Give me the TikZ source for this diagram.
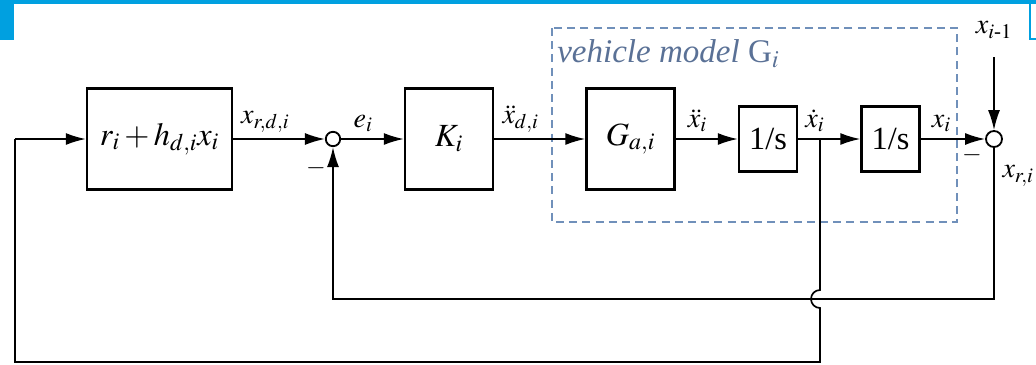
\documentclass[tikz,border=0pt]{standalone}
\usepackage{amsmath}
\usepackage{mathptmx}
\usepackage{fontspec}
\setmainfont{Liberation Serif}
\usepackage{xcolor}
\usepackage{tikz}
\usetikzlibrary{arrows.meta,calc,positioning}

\begin{document}
\begin{tikzpicture}[
  x=0.25mm, y=0.25mm,
  >={Latex[length=5mm,width=3mm]},
  block/.style={draw=black, line width=1.7pt, minimum width=22mm,
    minimum height=25.25mm, inner sep=1mm, font=\fontsize{23}{27}\selectfont},
  intblock/.style={block, minimum width=14.5mm, minimum height=16.25mm},
  sumjunc/.style={draw=black, circle, line width=1.3pt, minimum size=3.6mm,
    inner sep=0pt},
  flow/.style={->, line width=1.2pt, draw=black},
  wire/.style={line width=1.2pt, draw=black},
  lbl/.style={font=\fontsize{20}{24}\selectfont, inner sep=1.5mm},
  sgn/.style={font=\fontsize{18}{20}\selectfont, inner sep=0pt},
  modelbox/.style={draw=modelblue, line width=1pt, dash pattern=on 2mm off 1.3mm}
]
\definecolor{frameblue}{HTML}{00A0E0}
\definecolor{modelblue}{HTML}{7090BA}
\definecolor{modeltext}{HTML}{5A7196}

\useasboundingbox (0,0) rectangle (1036,-364);

% Page frame
\fill[frameblue] (0,0) rectangle (1036,-4);
\fill[frameblue] (0,0) rectangle (14,-40);
\draw[frameblue, line width=1.2pt] (1030,0) -- (1030,-39) -- (1036,-39);

% Vehicle model
\draw[modelbox] (552,-28) rectangle (957,-222);
\node[anchor=north west, text=modeltext, inner sep=0pt,
  font=\fontsize{23.5}{27}\selectfont] (mlabel) at (557,-39)
  {\textit{vehicle model} G$_i$};

% Blocks
\node[block, minimum width=36.25mm] (ref) at (159.5,-139) {$r_i + h_{d,i}x_i$};
\node[sumjunc] (j1) at (333,-139) {};
\node[block] (ctrl) at (449,-139) {$K_i$};
\node[block] (act) at (630.5,-139) {$G_{a,i}$};
\node[intblock] (int1) at (768,-139) {1/s};
\node[intblock] (int2) at (890.5,-139) {1/s};
\node[sumjunc, minimum size=4mm] (j2) at (994,-139) {};

% Signals
\coordinate (tap) at (820,-139);
\coordinate (fb) at (0,-299);
\coordinate (bot) at (0,-362);
\coordinate (inl) at (15,-139);
\draw[flow] (ref) -- node[lbl, above, pos=0.35] {$x_{r,d,i}$} (j1);
\draw[flow] (j1) -- node[lbl, above, pos=0.35] {$e_i$} (ctrl);
\draw[flow] (ctrl) -- node[lbl, above, pos=0.29] {$\ddot{x}_{d,i}$} (act);
\draw[flow] (act) -- node[lbl, above, pos=0.35] {$\ddot{x}_i$} (int1);
\draw[flow] (int1) -- node[lbl, above, pos=0.27] {$\dot{x}_i$} (int2);
\draw[flow] (int2) -- node[lbl, above, pos=0.32] {$x_i$} (j2);
\node[lbl, inner sep=0pt] (prev) at (994,-30) {$x_{i\text{-}1}$};
\draw[flow] (prev.south |- 0,-57) -- (j2);
\node[lbl, inner sep=0pt] (out) at (1018,-176) {$x_{r,i}$};
\node[sgn] (m1) at (316,-168) {$-$};
\node[sgn] (m2) at (972,-155) {$-$};

% Feedback paths
\draw[flow] (j2) -- (j2 |- fb) -- (j1 |- fb) -- (j1);
\draw[wire] (tap) -- ($(tap |- fb)+(0,9)$)
  arc[start angle=90, end angle=270, radius=2.25mm]
  -- (tap |- bot) -- (inl |- bot) -- (inl);
\draw[flow] (inl) -- (ref);
\end{tikzpicture}
\end{document}
